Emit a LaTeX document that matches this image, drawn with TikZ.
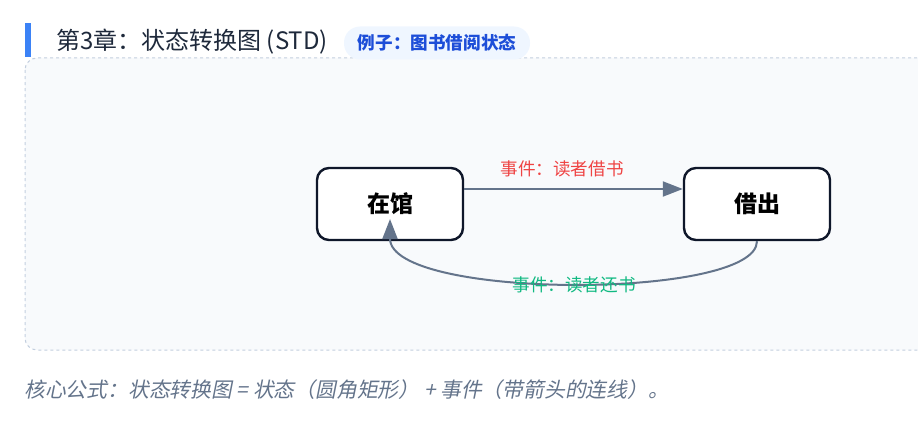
\documentclass[tikz,border=0pt]{standalone}
\usepackage{fontspec}
\setmainfont{Noto Sans CJK SC}
\newfontfamily\cjkit[FakeSlant=0.2]{Noto Sans CJK SC}
\usetikzlibrary{arrows.meta}
\definecolor{panelfill}{HTML}{F8FAFC}
\definecolor{paneldash}{HTML}{C3CFDF}
\definecolor{accent}{HTML}{3B82F6}
\definecolor{titlec}{HTML}{1E293B}
\definecolor{badgefill}{HTML}{EFF6FF}
\definecolor{badgetext}{HTML}{1D4ED8}
\definecolor{nodeborder}{HTML}{0F172A}
\definecolor{edgec}{HTML}{64748B}
\definecolor{redc}{HTML}{EF4444}
\definecolor{greenc}{HTML}{10B981}
\tikzset{
  statebox/.style={draw=nodeborder, line width=2.4pt, fill=white, rounded corners=12pt,
    minimum width=146pt, minimum height=72pt, inner sep=0pt, font=\fontsize{23}{27}\selectfont\bfseries, text=black},
  edge/.style={draw=edgec, line width=2pt, -{Triangle[length=20pt,width=15pt]}},
  evlabel/.style={font=\fontsize{17.6}{21}\selectfont, inner sep=0pt}
}
\begin{document}
\begin{tikzpicture}[x=1pt,y=-1pt]
\useasboundingbox (0,0) rectangle (918,436);
% panel
\path[fill=panelfill, draw=paneldash, dashed, line width=1pt, rounded corners=12pt]
  (25,58) rectangle (940,350);
% title
\fill[accent] (25,23) rectangle (31,57);
\node[anchor=base west, inner sep=0pt, text=titlec, font=\fontsize{24}{28}\selectfont] (title) at (56,50) {第3章：状态转换图 (STD)};
\node[fill=badgefill, rounded corners=16pt, minimum width=186pt, minimum height=33pt, inner sep=0pt,
  text=badgetext, font=\fontsize{17.6}{21}\selectfont\bfseries] (badge) at (437,43) {例子：图书借阅状态};
% states
\node[statebox] (inlib) at (390,204) {在馆};
\node[statebox] (out) at (757,204) {借出};
% edges
\draw[edge] (inlib.east |- 0,189) -- (out.west |- 0,189);
\coordinate (ret) at (390,219);
\draw[edge] (out.south) .. controls (757,300) and (390,300) .. (ret);
\node[evlabel, text=redc] (l1) at (562,169) {事件：读者借书};
\node[evlabel, text=greenc] (l2) at (574,285) {事件：读者还书};
% footer
\node[anchor=base west, inner sep=0pt, text=edgec, font=\fontsize{20.8}{24}\selectfont\cjkit] (foot) at (24,397) {核心公式：状态转换图 = 状态（圆角矩形） + 事件（带箭头的连线）。};
\end{tikzpicture}
\end{document}
